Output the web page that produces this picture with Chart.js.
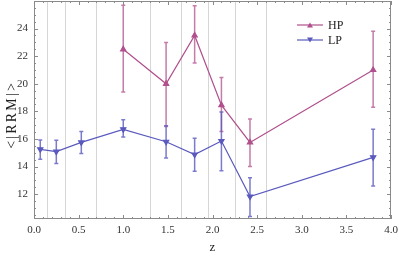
<!DOCTYPE html>
<html>
<head>
<meta charset="utf-8">
<script src="https://cdn.jsdelivr.net/npm/chart.js@4/dist/chart.umd.min.js"></script>
<style>
  html, body { margin: 0; padding: 0; background: #fff; }
  #wrap { width: 399px; height: 257px; }
</style>
</head>
<body>
<div id="wrap"><canvas id="rrmChart" width="399" height="257"></canvas></div>
<script>
// HP sample
const hpZ = [1.0, 1.48, 1.8, 2.1, 2.42, 3.8];
const hpRRM = [22.5, 20.0, 23.5, 18.45, 15.75, 21.0];
const hpHigh = [25.7, 23.0, 25.65, 20.45, 17.45, 23.8];
const hpLow = [19.4, 16.9, 21.5, 16.55, 14.0, 18.3];

// LP sample
const lpZ = [0.07, 0.25, 0.53, 1.0, 1.48, 1.8, 2.1, 2.42, 3.8];
const lpRRM = [15.25, 15.08, 15.75, 16.7, 15.8, 14.87, 15.85, 11.83, 14.67];
const lpHigh = [15.93, 15.9, 16.55, 17.4, 16.96, 16.05, 17.95, 13.19, 16.7];
const lpLow = [14.53, 14.22, 14.94, 16.14, 14.62, 13.66, 13.7, 10.39, 12.6];

// redshift bin edges (light vertical lines)
const binEdges = [0.15, 0.35, 0.7, 1.3, 1.65, 1.95, 2.25, 2.6];

const xTicks = [0, 0.5, 1, 1.5, 2, 2.5, 3, 3.5, 4];
const yTicks = [12, 14, 16, 18, 20, 22, 24];
const yTitle = '<|RRM|>';

const hpColor = '#b0508c';
const lpColor = '#5a5abe';
const serif = "'Liberation Serif', 'DejaVu Serif', serif";
Chart.defaults.font.family = serif;

const toPoints = (xs, ys) => xs.map((x, i) => ({ x, y: ys[i] }));

const noPadding = (scale) => {
  scale.paddingLeft = 0;
  scale.paddingRight = 0;
  scale.paddingTop = 0;
  scale.paddingBottom = 0;
};

const errorBarPlugin = {
  id: 'errorBars',
  beforeDatasetsDraw: (chart) => {
    const { ctx, scales: { x, y } } = chart;
    chart.data.datasets.forEach((ds) => {
      ctx.save();
      ctx.strokeStyle = ds.errorColor;
      ctx.lineWidth = 1.5;
      ds.data.forEach((pt, i) => {
        const px = x.getPixelForValue(pt.x);
        const top = y.getPixelForValue(ds.high[i]);
        const bot = y.getPixelForValue(ds.low[i]);
        ctx.beginPath();
        ctx.moveTo(px, top);
        ctx.lineTo(px, bot);
        ctx.moveTo(px - 2, top);
        ctx.lineTo(px + 2, top);
        ctx.moveTo(px - 2, bot);
        ctx.lineTo(px + 2, bot);
        ctx.stroke();
      });
      ctx.restore();
    });
  },
};

const framePlugin = {
  id: 'frame',
  beforeDatasetsDraw: (chart) => {
    const { ctx, chartArea: a, scales: { x } } = chart;
    ctx.save();
    // bin edges
    ctx.strokeStyle = '#d6d6d6';
    ctx.lineWidth = 1;
    binEdges.forEach((z) => {
      const px = Math.round(x.getPixelForValue(z)) + 0.5;
      ctx.beginPath();
      ctx.moveTo(px, a.top);
      ctx.lineTo(px, a.bottom);
      ctx.stroke();
    });
    ctx.restore();
  },
  afterDraw: (chart) => {
    const { ctx, chartArea: a, scales: { x, y } } = chart;
    ctx.save();
    ctx.strokeStyle = '#8a8a8a';
    ctx.lineWidth = 1;
    ctx.strokeRect(a.left + 0.5, a.top + 0.5, a.right - a.left - 1, a.bottom - a.top - 1);
    ctx.beginPath();
    for (let v = 0; v <= 40; v++) {
      const px = Math.round(x.getPixelForValue(v / 10)) + 0.5;
      const len = v % 5 === 0 ? 4 : 2;
      ctx.moveTo(px, a.bottom);
      ctx.lineTo(px, a.bottom - len);
      ctx.moveTo(px, a.top);
      ctx.lineTo(px, a.top + len);
    }
    for (let v = 21; v <= 52; v++) {
      const py = Math.round(y.getPixelForValue(v / 2)) + 0.5;
      if (py < a.top || py > a.bottom) continue;
      const len = v % 4 === 0 ? 4 : 2;
      ctx.moveTo(a.left, py);
      ctx.lineTo(a.left + len, py);
      ctx.moveTo(a.right, py);
      ctx.lineTo(a.right - len, py);
    }
    ctx.stroke();

    // y axis title, spaced out like the original
    ctx.save();
    ctx.translate(12, (a.top + a.bottom) / 2 + 6);
    ctx.rotate(-Math.PI / 2);
    ctx.fillStyle = '#222';
    ctx.font = `14px ${serif}`;
    ctx.letterSpacing = '2.2px';
    ctx.textAlign = 'center';
    ctx.textBaseline = 'middle';
    ctx.fillText(yTitle, 1.1, 0);
    ctx.restore();

    // legend
    chart.data.datasets.forEach((ds, i) => {
      const ly = 25 + i * 15;
      ctx.strokeStyle = ds.borderColor;
      ctx.lineWidth = 1.2;
      ctx.beginPath();
      ctx.moveTo(297, ly);
      ctx.lineTo(323, ly);
      ctx.stroke();
      ctx.fillStyle = ds.borderColor;
      ctx.beginPath();
      if (ds.pointRotation === 180) {
        ctx.moveTo(307, ly - 2.5);
        ctx.lineTo(313, ly - 2.5);
        ctx.lineTo(310, ly + 2.5);
      } else {
        ctx.moveTo(307, ly + 2.5);
        ctx.lineTo(313, ly + 2.5);
        ctx.lineTo(310, ly - 2.5);
      }
      ctx.closePath();
      ctx.fill();
      ctx.fillStyle = '#222';
      ctx.font = `12px ${serif}`;
      ctx.textBaseline = 'middle';
      ctx.fillText(ds.label, 328, ly + 1);
    });
    ctx.restore();
  },
};

const ctx = document.getElementById('rrmChart').getContext('2d');
new Chart(ctx, {
  type: 'line',
  data: {
    datasets: [
      {
        label: 'HP',
        data: toPoints(hpZ, hpRRM),
        high: hpHigh,
        low: hpLow,
        borderColor: hpColor,
        backgroundColor: hpColor,
        errorColor: 'rgba(176,80,140,0.75)',
        borderWidth: 1.2,
        pointStyle: 'triangle',
        pointRadius: 3,
        pointRotation: 0,
        tension: 0,
      },
      {
        label: 'LP',
        data: toPoints(lpZ, lpRRM),
        high: lpHigh,
        low: lpLow,
        borderColor: lpColor,
        backgroundColor: lpColor,
        errorColor: 'rgba(90,90,190,0.8)',
        borderWidth: 1.2,
        pointStyle: 'triangle',
        pointRadius: 3,
        pointRotation: 180,
        tension: 0,
      },
    ],
  },
  options: {
    responsive: false,
    animation: false,
    layout: { autoPadding: false, padding: { top: 1, right: 8, left: 0, bottom: 0 } },
    plugins: {
      legend: { display: false },
      tooltip: { enabled: false },
    },
    scales: {
      x: {
        type: 'linear',
        min: 0,
        max: 4,
        afterBuildTicks: (scale) => {
          scale.ticks = xTicks.map((value) => ({ value }));
        },
        afterFit: (scale) => {
          scale.height = 38;
          noPadding(scale);
        },
        grid: { display: false, drawTicks: false },
        border: { display: false },
        ticks: {
          padding: 5,
          color: '#333',
          font: { family: serif, size: 11 },
          maxRotation: 0,
          callback: (value) => Number(value).toFixed(1),
        },
        title: {
          display: true,
          text: 'z',
          color: '#222',
          font: { family: serif, size: 13 },
          padding: { top: 0, bottom: 2 },
        },
      },
      y: {
        type: 'linear',
        min: 10.2,
        max: 26,
        afterBuildTicks: (scale) => {
          scale.ticks = yTicks.map((value) => ({ value }));
        },
        afterFit: (scale) => {
          scale.width = 34;
          noPadding(scale);
        },
        grid: { display: false, drawTicks: false },
        border: { display: false },
        ticks: {
          padding: 6,
          color: '#333',
          font: { family: serif, size: 11 },
        },
      },
    },
  },
  plugins: [framePlugin, errorBarPlugin],
});
</script>
</body>
</html>
